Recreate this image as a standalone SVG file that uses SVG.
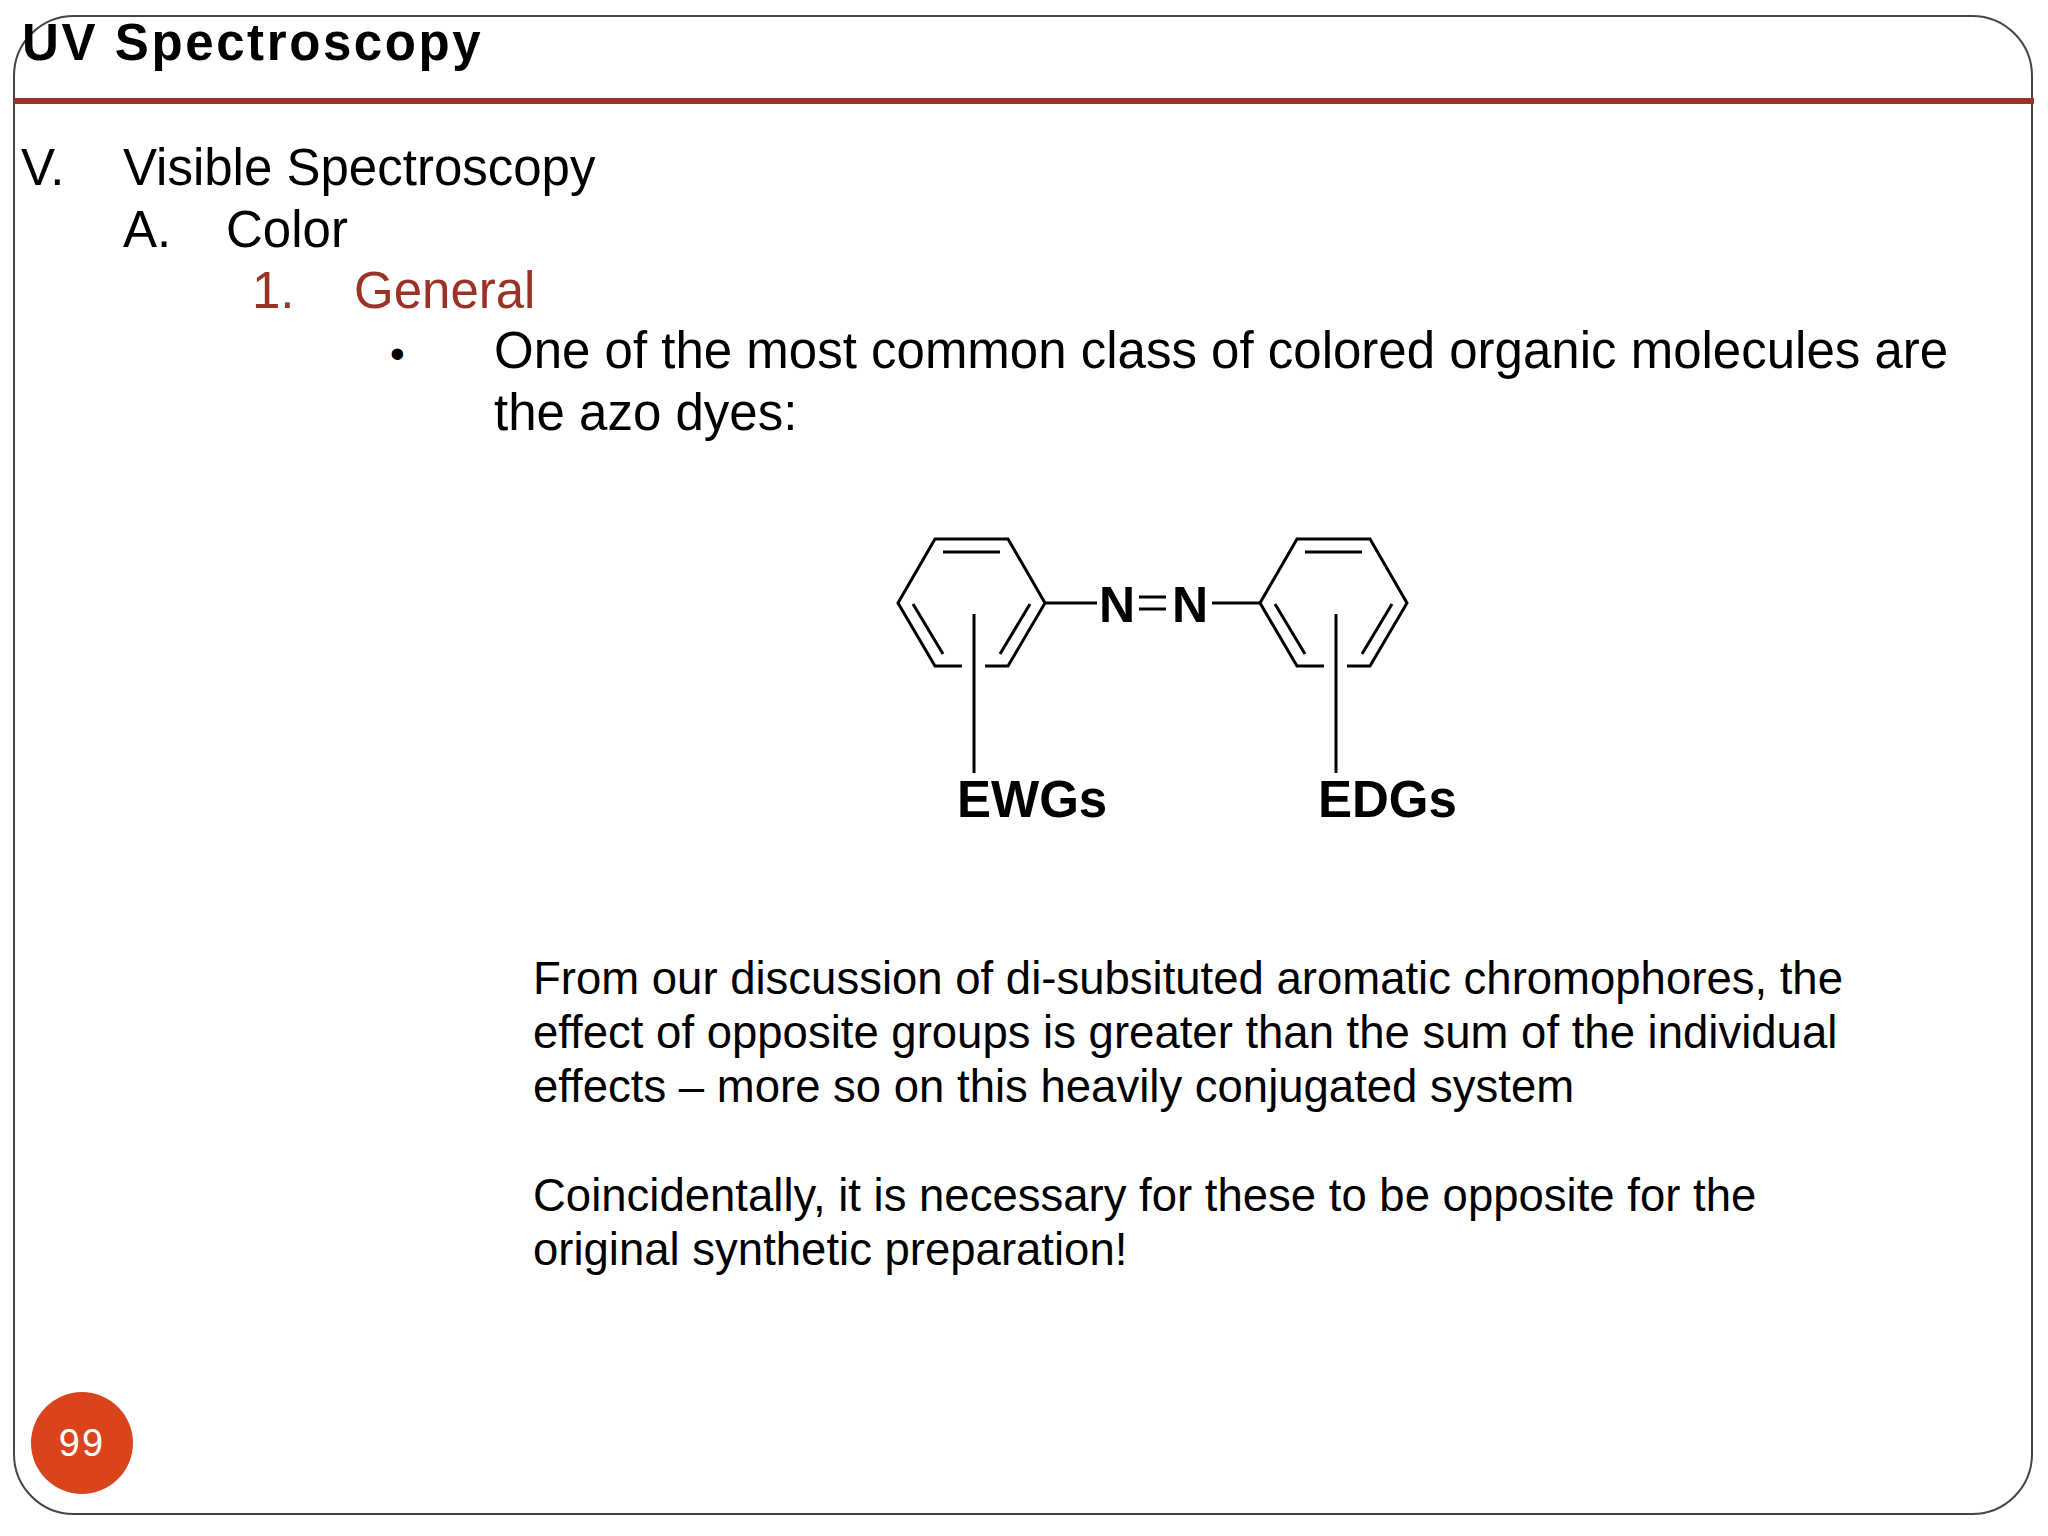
<svg xmlns="http://www.w3.org/2000/svg" width="2048" height="1536" viewBox="0 0 2048 1536">
<style>
.t{font-family:"Liberation Sans",Arial,sans-serif;fill:#000}
.b{stroke:#000;stroke-width:3;fill:none}
.p{font-size:45.5px}
</style>
<rect x="0" y="0" width="2048" height="1536" fill="#fff"/>
<rect x="14" y="16" width="2018" height="1498" rx="60" fill="none" stroke="#444" stroke-width="2"/>
<rect x="14" y="98" width="2020" height="6" fill="#9b3226"/>
<text class="t" x="22" y="60" font-size="51" font-weight="bold" letter-spacing="2.6">UV Spectroscopy</text>
<text class="t" x="21" y="185" font-size="51">V.</text>
<text class="t" x="123" y="185" font-size="51">Visible Spectroscopy</text>
<text class="t" x="123" y="247" font-size="51">A.</text>
<text class="t" x="226" y="247" font-size="51">Color</text>
<text class="t" x="252" y="308" font-size="51" style="fill:#9b3226">1.</text>
<text class="t" x="354" y="308" font-size="51" style="fill:#9b3226">General</text>
<text class="t" x="390" y="368" font-size="42">•</text>
<text class="t" x="494" y="368" font-size="51">One of the most common class of colored organic molecules are</text>
<text class="t" x="494" y="430" font-size="51">the azo dyes:</text>
<g id="ring1">
<polyline class="b" points="985,666 1008,666 1045,603 1008,539 935,539 898,603 935,666 962,666"/>
<line class="b" x1="943" y1="552" x2="1000" y2="552"/>
<line class="b" x1="913" y1="604" x2="943" y2="654"/>
<line class="b" x1="1030" y1="604" x2="1000" y2="654"/>
<line class="b" x1="974" y1="614" x2="974" y2="773"/>
</g>
<g id="ring2" transform="translate(362,0)">
<polyline class="b" points="985,666 1008,666 1045,603 1008,539 935,539 898,603 935,666 962,666"/>
<line class="b" x1="943" y1="552" x2="1000" y2="552"/>
<line class="b" x1="913" y1="604" x2="943" y2="654"/>
<line class="b" x1="1030" y1="604" x2="1000" y2="654"/>
<line class="b" x1="974" y1="614" x2="974" y2="773"/>
</g>
<g id="azo">
<text class="t" x="1117" y="622" font-size="50" font-weight="bold" text-anchor="middle">N</text>
<text class="t" x="1190" y="622" font-size="50" font-weight="bold" text-anchor="middle">N</text>
<line class="b" x1="1139" y1="597" x2="1166" y2="597"/>
<line class="b" x1="1139" y1="609" x2="1166" y2="609"/>
</g>
<g id="connectors">
<line class="b" x1="1045" y1="603" x2="1097" y2="603"/>
<line class="b" x1="1212" y1="603" x2="1260" y2="603"/>
</g>
<text class="t" x="957" y="817" font-size="51" font-weight="bold">EWGs</text>
<text class="t" x="1318" y="817" font-size="51" font-weight="bold">EDGs</text>
<text class="t p" x="533" y="994">From our discussion of di-subsituted aromatic chromophores, the</text>
<text class="t p" x="533" y="1048">effect of opposite groups is greater than the sum of the individual</text>
<text class="t p" x="533" y="1102">effects – more so on this heavily conjugated system</text>
<text class="t p" x="533" y="1211">Coincidentally, it is necessary for these to be opposite for the</text>
<text class="t p" x="533" y="1265">original synthetic preparation!</text>
<circle cx="82" cy="1443" r="51" fill="#d9441c"/>
<text class="t" x="82" y="1456" font-size="38" text-anchor="middle" style="fill:#fff" letter-spacing="2">99</text>
</svg>
